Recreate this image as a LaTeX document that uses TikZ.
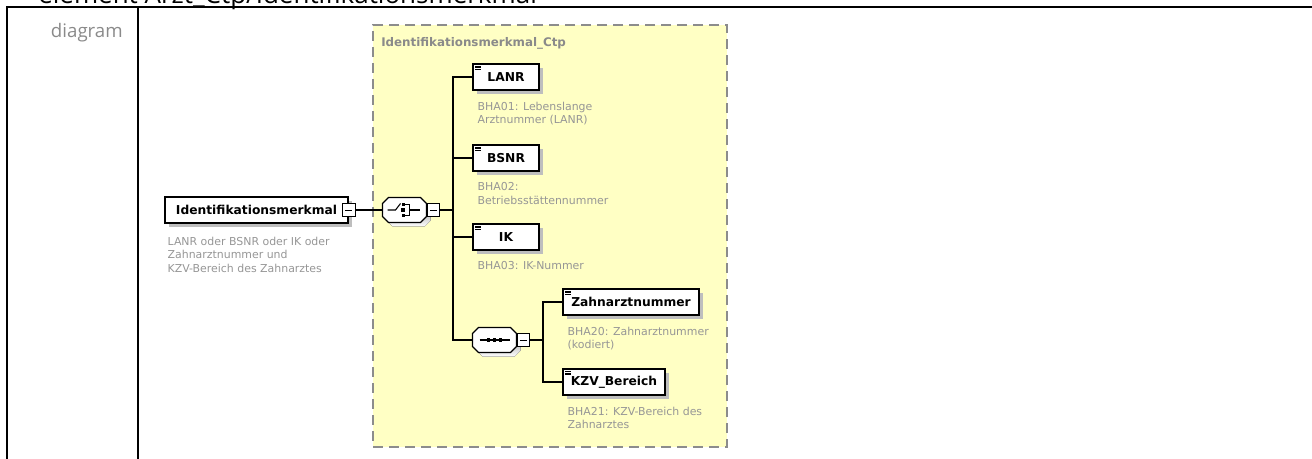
\documentclass[tikz,border=0pt]{standalone}
\usepackage{fontspec}
\setmainfont{DejaVu Sans}
\newfontfamily\headfont{Open Sans}
\usetikzlibrary{positioning,shadows}
\definecolor{ink}{HTML}{000000}
\definecolor{muted}{HTML}{8A8A8A}
\definecolor{note}{HTML}{969696}
\definecolor{panel}{HTML}{FFFFC4}
\definecolor{panelline}{HTML}{8C8C8C}
\definecolor{shade}{HTML}{BEBEBE}
\newcommand\octapath{(-22,-6.5) -- (-16,-12.5) -- (16,-12.5) -- (22,-6.5) -- (22,6.5) -- (16,12.5) -- (-16,12.5) -- (-22,6.5) -- cycle}
\tikzset{
  elem/.style={draw=ink,fill=white,line width=0.9pt,minimum height=19.5pt,inner sep=0pt,font=\fontsize{9.2}{11}\selectfont\bfseries,drop shadow={shadow xshift=3pt,shadow yshift=-3pt,fill=shade,opacity=1}},
  toggle/.style={draw=ink,fill=white,line width=0.6pt,minimum size=9.5pt,inner sep=0pt,path picture={\draw[line width=0.6pt] ([xshift=2pt]path picture bounding box.west) -- ([xshift=-2pt]path picture bounding box.east);}},
  group/.style={rectangle,inner sep=0pt,minimum width=33pt,minimum height=18.75pt},
  octa/.style={draw=ink,fill=white,line width=0.9pt},
  note/.style={text=note,font=\fontsize{8.2}{10.3}\selectfont,align=left,inner sep=0pt},
  link/.style={line width=0.9pt,draw=ink},
  panelbox/.style={draw=panelline,fill=panel,line width=1.1pt,dash pattern=on 7.5pt off 4.5pt,inner sep=0pt},
  framerule/.style={line width=1.5pt,draw=ink}
}

\begin{document}
\begin{tikzpicture}[x=0.75pt,y=-0.75pt]
    \useasboundingbox (0,0) rectangle (1312,459);

    % page frame
    \node[anchor=base west,inner sep=0pt,font=\headfont\fontsize{19.5}{22}\selectfont] (head) at (38,3.5) {element Arzt\_Ctp/Identifikationsmerkmal};
    \draw[framerule] (7,466) -- (7,7) -- (1314,7);
    \draw[framerule] (138,7) -- (138,466);
    \node[anchor=base east,inner sep=0pt,text=muted,font=\headfont\fontsize{14}{16}\selectfont] (kind) at (123,38) {diagram};

    % complex type
    \node[panelbox,minimum width=265.5pt,minimum height=316.5pt] (ctp) at (550,236) {};
    \node[anchor=base west,inner sep=0pt,text=muted,font=\fontsize{8.9}{10}\selectfont\bfseries] (ctptitle) at (381,47) {Identifikationsmerkmal\_Ctp};

    \node[elem,minimum width=137.25pt] (idm) at (256.5,210) {Identifikationsmerkmal};
    \node[toggle] (idmtog) at (idm.east) {};
    \node[note,below right=9.75pt and 2.25pt of idm.south west] (idmnote) {LANR oder BSNR oder IK oder\\Zahnarztnummer und\\KZV-Bereich des Zahnarztes};

    \node[group] (choice) at (404.5,210) {};
    \node[group] (seq) at (494.5,340) {};

    % compositor outlines and icons
    \foreach \g in {choice,seq} {
      \begin{scope}[shift={(\g.center)}]
        \fill[shade,shift={(4,4)}] \octapath;
        \draw[octa] \octapath;
      \end{scope}
    }
    \begin{scope}[shift={(choice.center)},line width=0.8pt]
      \draw (-17,0) -- (-9,0) -- (-4,-6.5);
      \fill (-2.5,-7) rectangle (0.5,-4);
      \fill (-3.5,-2) rectangle (0.5,2);
      \fill (-2.5,4) rectangle (0.5,7);
      \draw (0.5,-5.5) -- (5,-5.5) -- (5,5.5) -- (0.5,5.5);
      \draw (5,0) -- (15,0);
    \end{scope}
    \begin{scope}[shift={(seq.center)},line width=0.8pt]
      \draw (-15,0) -- (15,0);
      \foreach \d in {-6,0,6}
        \fill (\d-1.8,-1.8) rectangle (\d+1.8,1.8);
    \end{scope}

    \node[toggle,right=0pt of choice] (choicetog) {};
    \node[toggle,right=0pt of seq] (seqtog) {};

    \node[elem,minimum width=49.5pt] (lanr) at (506,77) {LANR};
    \node[elem,minimum width=49.5pt] (bsnr) at (506,158) {BSNR};
    \node[elem,minimum width=49.5pt] (ik) at (506,237) {IK};
    \node[elem,minimum width=102pt] (zahn) at (631,302) {Zahnarztnummer};
    \node[elem,minimum width=76.5pt] (kzv) at (614,382) {KZV\_Bereich};

    \node[note,below right=8.25pt and 3.75pt of lanr.south west] (lanrnote) {BHA01: Lebenslange\\Arztnummer (LANR)};
    \node[note,below right=8.25pt and 3.75pt of bsnr.south west] (bsnrnote) {BHA02:\\Betriebsstättennummer};
    \node[note,below right=8.25pt and 3.75pt of ik.south west] (iknote) {BHA03: IK-Nummer};
    \node[note,below right=8.25pt and 3.75pt of zahn.south west] (zahnnote) {BHA20: Zahnarztnummer\\(kodiert)};
    \node[note,below right=8.25pt and 3.75pt of kzv.south west] (kzvnote) {BHA21: KZV-Bereich des\\Zahnarztes};

    % little list marks on the elements
    \foreach \e in {lanr,bsnr,ik,zahn,kzv}
      \foreach \k in {0,1,2}
        \draw[line width=0.45pt] ([shift={(2pt,{-2pt-\k*1.3pt})}]\e.north west) -- ++(4.5pt,0);

    \coordinate (bus1) at (453,210);
    \coordinate (bus2) at (543,340);

    \draw[link] (idmtog) -- (choice);
    \draw[link] (choicetog) -- (bus1);
    \draw[link] (bus1) |- (lanr);
    \draw[link] (bus1) |- (bsnr);
    \draw[link] (bus1) |- (ik);
    \draw[link] (bus1) |- (seq);
    \draw[link] (seqtog) -- (bus2);
    \draw[link] (bus2) |- (zahn);
    \draw[link] (bus2) |- (kzv);
  \end{tikzpicture}
\end{document}
